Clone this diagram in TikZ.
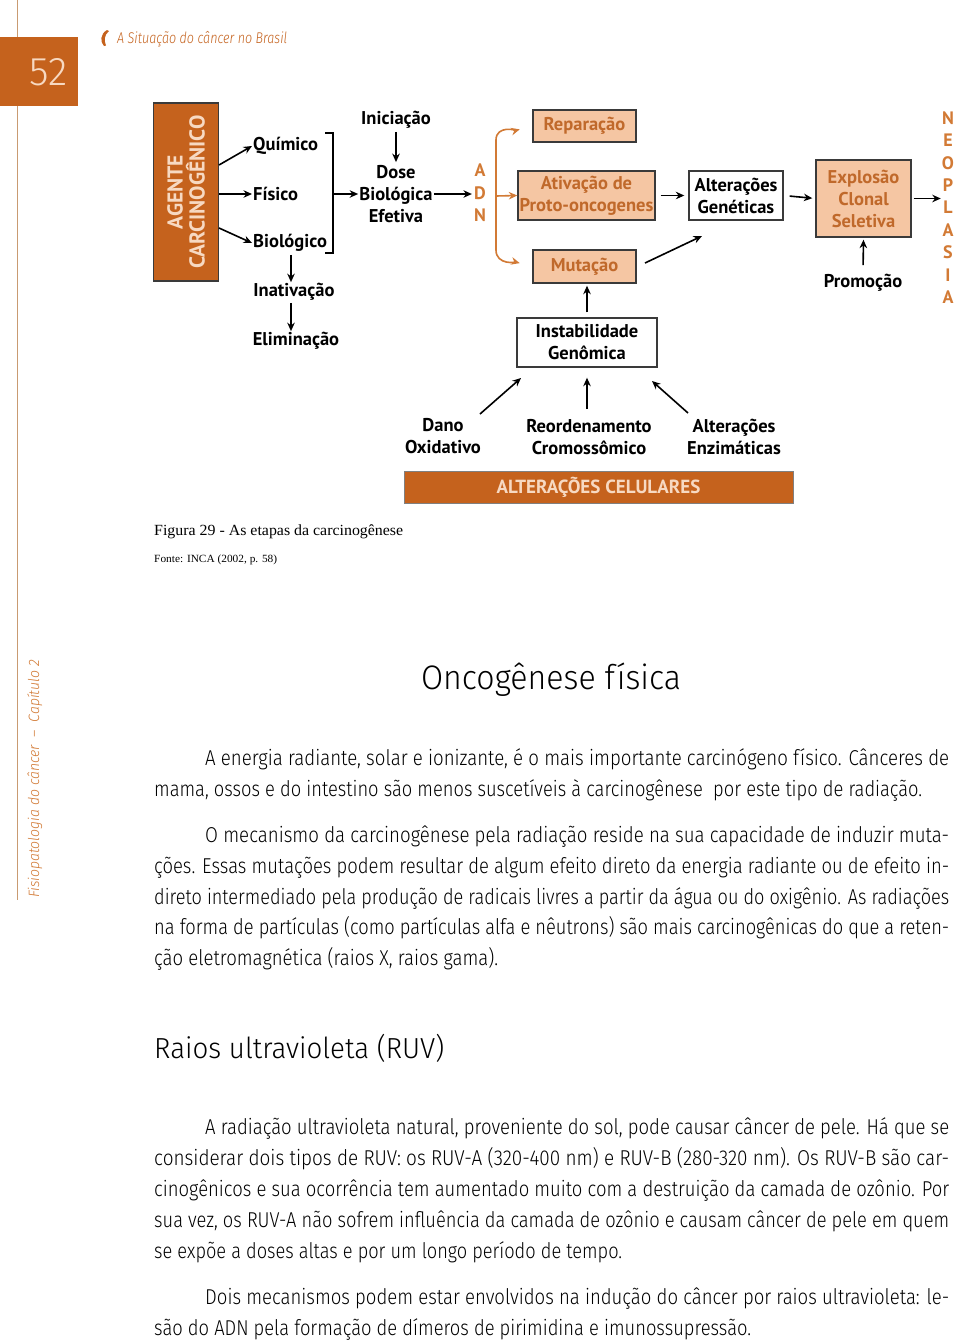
\documentclass[tikz,border=0pt]{standalone}
\usepackage{fontspec}
\usepackage{graphicx}
\setmainfont{Fira Sans Light}
\newfontfamily\dfont{PT Sans}
\newfontfamily\capfont{Liberation Serif}
\usetikzlibrary{arrows.meta,calc}
\definecolor{odark}{HTML}{C5621D}
\definecolor{peach}{HTML}{F5C6A3}
\definecolor{otext}{HTML}{C0692B}
\definecolor{oletter}{HTML}{D27A35}
\definecolor{lighttxt}{HTML}{F7D9C2}
\definecolor{sideline}{HTML}{C99B72}
\definecolor{bord}{HTML}{3A3A3A}
\newcommand\fitw[2]{\resizebox{#1pt}{\height}{#2}}
\tikzset{
  lbl/.style={font=\dfont\bfseries\fontsize{18.5}{22}\selectfont, align=center, inner sep=1pt},
  obox/.style={draw=bord, line width=1.4pt, fill=peach, text=otext, font=\dfont\bfseries\fontsize{18.5}{22}\selectfont, align=center, inner sep=0pt},
  wbox/.style={draw=bord, line width=1.4pt, fill=white, text=black, font=\dfont\bfseries\fontsize{18.5}{22}\selectfont, align=center, inner sep=0pt},
  arr/.style={-{Stealth[length=8.5pt,width=7.5pt]}, line width=1.6pt, black},
  oarr/.style={-{Stealth[length=8.5pt,width=7.5pt]}, line width=1.6pt, oletter},
  body/.style={anchor=base west, inner sep=0pt, font=\fontsize{21.5}{31}\selectfont},
}
\begin{document}
\begin{tikzpicture}[x=1pt,y=-1pt]
\useasboundingbox (0,0) rectangle (960,1342);
\fill[white] (0,0) rectangle (960,1342);
% page furniture
\draw[sideline, line width=1.5pt] (17.5,0) -- (17.5,900);
\node[fill=odark, minimum width=78pt, minimum height=69pt, inner sep=0pt, anchor=north west] (pg) at (0,37) {};
\node[text=lighttxt, font=\fontsize{40}{40}\selectfont, inner sep=0pt] (pgnum) at (48.5,72) {52};
\fill[odark] (107,30) .. controls (100,34) and (100,42) .. (104,46) -- (106,45.5) .. controls (104,41) and (104,35) .. (109,31) -- cycle;
\node[anchor=base west, inner sep=0pt, text=odark, font=\itshape\fontsize{15.5}{16}\selectfont] (hdr) at (117,43.5) {\fitw{170}{A Situação do câncer no Brasil}};
\node[rotate=90, anchor=base west, inner sep=0pt, text=oletter, font=\itshape\fontsize{15}{16}\selectfont] (side) at (39,898) {\fitw{238}{Fisiopatologia do câncer \ – \ Capítulo 2}};

% ---------- diagram ----------
\node[rotate=90, fill=odark, draw=bord, line width=1.4pt, minimum width=178pt, minimum height=65pt, inner sep=0pt, align=center, text=lighttxt, font=\dfont\bfseries\fontsize{21.5}{22}\selectfont] (agente) at (186,192) {AGENTE\\CARCINOGÊNICO};
\node[lbl, anchor=west] (quim) at (252,146) {Químico};
\node[lbl, anchor=west] (fis) at (252,194) {Físico};
\node[lbl, anchor=west] (bio) at (252,243) {Biológico};
\node[lbl] (inat) at (294,292) {Inativação};
\node[lbl] (elim) at (296,341) {Eliminação};
\node[lbl] (ini) at (396,120) {Iniciação};
\node[lbl] (dose) at (396,194) {Dose\\Biológica\\Efetiva};
\node[lbl, text=oletter, font=\dfont\bfseries\fontsize{18}{22.5}\selectfont] (adn) at (480,193) {A\\D\\N};

\coordinate (agq) at (219,165);
\coordinate (agb) at (219,228);
\draw[arr] (agq) -- (quim.west);
\draw[arr] (agente.south |- fis.west) -- (fis.west);
\draw[arr] (agb) -- (bio.west);
\coordinate (brt) at (333,133);
\coordinate (brb) at (333,253);
\coordinate (brm) at (333,194);
\draw[line width=1.6pt] ($(brt)+(-8,0)$) -- (brt) -- (brb) -- ($(brb)+(-8,0)$);
\draw[arr] (brm) -- (dose.west);
\draw[arr, shorten <=2pt, shorten >=2pt] (ini.south) -- (dose.north);
\draw[arr, shorten >=1pt] (dose.east) -- (dose.east -| adn.west);
\draw[arr, shorten <=2pt] (bio.south -| 291,0) -- (inat.north -| 291,0);
\draw[arr, shorten <=1pt] (inat.south -| 291,0) -- (elim.north -| 291,0);

\node[obox, minimum width=103pt, minimum height=32pt] (rep) at (584.5,126) {Reparação};
\node[obox, minimum width=137pt, minimum height=49pt] (ativ) at (586.5,195.5) {Ativação de\\Proto-oncogenes};
\node[obox, minimum width=103pt, minimum height=33pt] (mut) at (584.5,266.5) {Mutação};
\node[wbox, minimum width=94pt, minimum height=49pt] (alt) at (736,195.5) {Alterações\\Genéticas};
\node[obox, minimum width=95pt, minimum height=77pt] (expl) at (863.5,198.5) {Explosão\\Clonal\\Seletiva};
\node[lbl] (prom) at (863,283) {Promoção};
\node[lbl, text=oletter, font=\dfont\bfseries\fontsize{18}{22.4}\selectfont] (neo) at (948,207.5) {N\\E\\O\\P\\L\\A\\S\\I\\A};

\coordinate (ob) at (496,196);
\draw[oarr, shorten >=13pt] (ob) -- (496,140) to[out=90,in=195] (rep.west);
\draw[oarr, shorten >=13pt] (ob) -- (496,250) to[out=-90,in=165] (mut.west);
\draw[oarr] (ob) -- (ativ.west);
\draw[arr, shorten <=5pt, shorten >=4pt] (ativ.east) -- (alt.west);
\draw[arr, shorten <=6pt, shorten >=3pt] (alt.east) -- (expl.west);
\draw[arr, shorten <=2pt] (expl.east) -- (expl.east -| neo.west);
\draw[arr, shorten <=8pt, shorten >=2pt] (prom.north) -- (expl.south);
\coordinate (mA) at (645,263);
\coordinate (mB) at (702,236);
\draw[arr] (mA) -- (mB);

\node[wbox, minimum width=140pt, minimum height=49pt] (instab) at (587,342.5) {Instabilidade\\Genômica};
\draw[arr, shorten <=5pt, shorten >=2pt] (instab.north -| 587,0) -- (mut.south -| 587,0);
\node[lbl] (dano) at (443,436.5) {Dano\\Oxidativo};
\node[lbl] (reord) at (589,437) {Reordenamento\\Cromossômico};
\node[lbl] (alten) at (734,437) {Alterações\\Enzimáticas};
\coordinate (dA) at (480,414);
\coordinate (dB) at (521,378);
\coordinate (eA) at (688,413);
\coordinate (eB) at (652,381);
\draw[arr] (dA) -- (dB);
\draw[arr, shorten <=9pt, shorten >=10pt] (reord.north -| 587,0) -- (instab.south -| 587,0);
\draw[arr] (eA) -- (eB);
\node[fill=odark, draw=gray, line width=1pt, minimum width=389pt, minimum height=32pt, inner sep=0pt, text=lighttxt, font=\dfont\bfseries\fontsize{19}{20}\selectfont] (cel) at (598.5,487) {ALTERAÇÕES CELULARES};

% caption
\node[anchor=base west, inner sep=0pt, font=\capfont\fontsize{15.5}{16}\selectfont] (cap) at (154,535) {\fitw{249}{Figura 29 - As etapas da carcinogênese}};
\node[anchor=base west, inner sep=0pt, font=\capfont\fontsize{11}{12}\selectfont] (fonte) at (154,562) {\fitw{123}{Fonte: INCA (2002, p. 58)}};

% headings
\node[anchor=base, inner sep=0pt, font=\fontsize{34}{36}\selectfont] (h1) at (551,689) {\fitw{260}{Oncogênese física}};
\node[anchor=base west, inner sep=0pt, font=\fontsize{29}{32}\selectfont] (h2) at (154,1058) {\fitw{290}{Raios ultravioleta (RUV)}};

% body
\node[body] (p1a) at (205,765) {\fitw{744}{A energia radiante, solar e ionizante, é o mais importante carcinógeno físico. Cânceres de}};
\node[body] (p1b) at (154,796) {\fitw{768}{mama, ossos e do intestino são menos suscetíveis à carcinogênese\ \ por este tipo de radiação.}};
\node[body] (p2a) at (205,842) {\fitw{744}{O mecanismo da carcinogênese pela radiação reside na sua capacidade de induzir muta-}};
\node[body] (p2b) at (154,873) {\fitw{795}{ções. Essas mutações podem resultar de algum efeito direto da energia radiante ou de efeito in-}};
\node[body] (p2c) at (154,904) {\fitw{795}{direto intermediado pela produção de radicais livres a partir da água ou do oxigênio. As radiações}};
\node[body] (p2d) at (154,934) {\fitw{795}{na forma de partículas (como partículas alfa e nêutrons) são mais carcinogênicas do que a reten-}};
\node[body] (p2e) at (154,965) {\fitw{344}{ção eletromagnética (raios X, raios gama).}};
\node[body] (p3a) at (205,1134) {\fitw{744}{A radiação ultravioleta natural, proveniente do sol, pode causar câncer de pele. Há que se}};
\node[body] (p3b) at (154,1165) {\fitw{795}{considerar dois tipos de RUV: os RUV-A (320-400 nm) e RUV-B (280-320 nm). Os RUV-B são car-}};
\node[body] (p3c) at (154,1196) {\fitw{795}{cinogênicos e sua ocorrência tem aumentado muito com a destruição da camada de ozônio. Por}};
\node[body] (p3d) at (154,1227) {\fitw{795}{sua vez, os RUV-A não sofrem influência da camada de ozônio e causam câncer de pele em quem}};
\node[body] (p3e) at (154,1258) {\fitw{468}{se expõe a doses altas e por um longo período de tempo.}};
\node[body] (p4a) at (205,1304) {\fitw{744}{Dois mecanismos podem estar envolvidos na indução do câncer por raios ultravioleta: le-}};
\node[body] (p4b) at (154,1335) {\fitw{597}{são do ADN pela formação de dímeros de pirimidina e imunossupressão.}};
\end{tikzpicture}
\end{document}
